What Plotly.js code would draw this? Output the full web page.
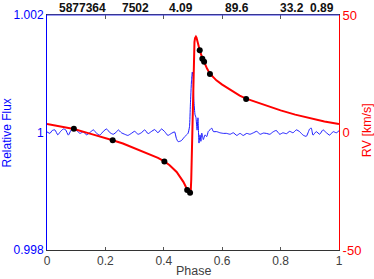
<!DOCTYPE html>
<html>
<head>
<meta charset="utf-8">
<script src="https://cdn.plot.ly/plotly-3.0.1.min.js"></script>
<style>html,body{margin:0;padding:0;background:#fff;}#plot{width:374px;height:279px;}</style>
</head>
<body>
<div id="plot"></div>
<script>
// Light curve (relative flux vs phase)
var fluxPhase = [0.000,0.010,0.018,0.027,0.037,0.045,0.056,0.064,0.073,0.082,0.090,0.102,0.113,0.124,0.136,0.147,0.159,0.170,0.181,0.193,0.204,0.216,0.227,0.239,0.244,0.255,0.266,0.277,0.289,0.300,0.312,0.323,0.335,0.346,0.357,0.369,0.380,0.392,0.403,0.414,0.426,0.437,0.443,0.449,0.460,0.4715,0.483,0.488,0.491,0.495,0.4976,0.500,0.503,0.507,0.510,0.514,0.517,0.5205,0.524,0.527,0.530,0.5354,0.541,0.547,0.5525,0.558,0.564,0.570,0.581,0.5925,0.604,0.615,0.627,0.638,0.650,0.661,0.672,0.684,0.695,0.707,0.718,0.730,0.741,0.751,0.763,0.774,0.785,0.797,0.808,0.820,0.831,0.8425,0.854,0.865,0.877,0.888,0.8995,0.905,0.911,0.922,0.934,0.945,0.957,0.968,0.980,0.991,1.000];
var fluxValue = [1.000010,0.999985,1.000035,1.000045,0.999960,1.000010,1.000060,1.000045,0.999955,1.000035,1.000065,1.000030,0.999985,1.000010,0.999960,1.000000,1.000045,0.999985,0.999955,1.000020,1.000060,0.999995,0.999970,1.000015,1.000045,0.999995,0.999970,0.999950,0.999985,1.000020,0.999970,0.999995,1.000045,0.999980,1.000015,1.000050,0.999995,1.000060,1.000015,0.999950,0.999985,1.000010,0.999900,0.999844,0.999861,0.999929,0.999986,1.000100,1.000470,1.000890,1.001030,1.000930,1.000550,1.000300,1.000260,1.000040,1.000250,0.999820,0.999960,0.999850,0.999990,0.999880,0.999960,0.999930,1.000020,1.000045,1.000075,1.000015,1.000015,0.999995,0.999985,0.999985,0.999970,0.999995,0.999950,0.999985,0.999950,0.999985,0.999970,0.999995,1.000020,0.999970,0.999990,0.999985,0.999970,1.000010,1.000035,0.999970,0.999995,0.999980,1.000020,0.999995,1.000045,1.000015,0.999955,0.999935,1.000060,1.000075,0.999955,1.000015,0.999970,1.000045,0.999995,0.999955,1.000015,0.999995,1.000030];

// RV model curve (km/s)
var rvModelPhase = [0.0,0.05,0.092,0.15,0.2,0.225,0.26,0.295,0.33,0.353,0.38,0.402,0.42,0.444,0.46,0.467,0.475,0.48,0.485,0.489,0.492,0.494,0.496,0.498,0.499,0.501,0.503,0.505,0.507,0.510,0.512,0.515,0.519,0.523,0.530,0.538,0.548,0.558,0.58,0.60,0.63,0.66,0.682,0.72,0.76,0.8,0.85,0.9,0.95,1.0];
var rvModel = [3.6,2.4,1.5,-0.6,-2.3,-3.3,-4.7,-6.5,-8.0,-9.3,-10.8,-12.3,-13.9,-16.8,-19.6,-21.0,-23.0,-24.3,-25.3,-25.8,-25.5,-20,-10,0,5,22,35,38.5,40.2,40.8,40.4,38.8,36.8,35.0,32.4,29.8,27.2,25.0,22.2,20.4,17.9,15.7,14.4,12.7,10.9,9.4,7.6,6.0,4.7,3.6];

// RV observations (km/s)
var rvObsPhase = [0.092,0.225,0.402,0.480,0.490,0.523,0.532,0.538,0.558,0.682];
var rvObs = [1.6,-3.3,-12.3,-24.5,-25.6,35.0,31.4,30.1,24.9,14.3];

// Tick labels
var xTickVals = [0,0.2,0.4,0.6,0.8,1];
var xTickText = ['0','0.2','0.4','0.6','0.8','1'];
var fluxTickVals = [0.998,1,1.002];
var fluxTickText = ['0.998','1','1.002'];
var rvTickVals = [-50,0,50];
var rvTickText = ['-50','0','50'];

// Top labels
var topLabels = ['5877364','7502','4.09','89.6','33.2','0.89'];
var topLabelX = [0.1199,0.3038,0.458,0.6497,0.840,0.9408];

var FONT = 'Liberation Sans, Arial, Helvetica, sans-serif';

var traces = [
  {x: fluxPhase, y: fluxValue, type: 'scatter', mode: 'lines', yaxis: 'y',
   line: {color: '#1a1aff', width: 1, shape: 'spline', smoothing: 0.5}, hoverinfo: 'skip'},
  {x: rvModelPhase, y: rvModel, type: 'scatter', mode: 'lines', yaxis: 'y2',
   line: {color: '#ff0000', width: 2}, hoverinfo: 'skip'},
  {x: rvObsPhase, y: rvObs, type: 'scatter', mode: 'markers', yaxis: 'y2',
   marker: {color: '#000000', size: 6}, hoverinfo: 'skip'}
];

var annotations = topLabels.map(function(t, i){
  return {text: t, x: topLabelX[i], y: 1 + 15/235, xref: 'paper', yref: 'paper',
    xanchor: 'center', yanchor: 'top', showarrow: false, borderpad: 0,
    font: {family: FONT, size: 12, color: '#111111', weight: 'bold'}};
});
annotations.push({text: 'Relative Flux', x: -0.137, y: 0.5, xref: 'paper', yref: 'paper',
  textangle: -90, showarrow: false, xanchor: 'center', yanchor: 'middle',
  font: {family: FONT, size: 12, color: '#0000ff'}});
annotations.push({text: 'RV [km/s]', x: 1.096, y: 0.51, xref: 'paper', yref: 'paper',
  textangle: -90, showarrow: false, xanchor: 'center', yanchor: 'middle',
  font: {family: FONT, size: 12.5, color: '#ff0000'}});
annotations.push({text: 'Phase', x: 0.5, y: -0.09, xref: 'paper', yref: 'paper',
  showarrow: false, xanchor: 'center', yanchor: 'middle',
  font: {family: FONT, size: 12.5, color: '#404040'}});

var layout = {
  width: 374, height: 279,
  margin: {l: 47, r: 35, t: 15, b: 29, pad: 0},
  paper_bgcolor: '#ffffff', plot_bgcolor: '#ffffff',
  showlegend: false,
  xaxis: {range: [0, 1], tickvals: xTickVals, ticktext: xTickText,
    showgrid: false, zeroline: false, showline: true, linecolor: '#333333', linewidth: 1,
    mirror: 'ticks', ticks: 'inside', ticklen: 3.5, tickcolor: '#555555',
    tickfont: {family: FONT, size: 12, color: '#404040'}},
  yaxis: {range: [0.998, 1.002], tickvals: fluxTickVals, ticktext: fluxTickText,
    showgrid: false, zeroline: false, showline: true, linecolor: '#0000ff', linewidth: 1,
    ticks: '', tickfont: {family: FONT, size: 12, color: '#0000ff'}},
  yaxis2: {range: [-50, 50], tickvals: rvTickVals, ticktext: rvTickText, overlaying: 'y', side: 'right',
    showgrid: false, zeroline: false, showline: true, linecolor: '#ff0000', linewidth: 1,
    ticks: '', tickfont: {family: FONT, size: 13, color: '#ff0000'}},
  shapes: [{type: 'line', xref: 'paper', yref: 'paper', x0: 0, x1: 1, y0: 1, y1: 1,
    line: {color: '#3a3af0', width: 1}}],
  annotations: annotations
};

Plotly.newPlot('plot', traces, layout, {staticPlot: true, displayModeBar: false});
</script>
</body>
</html>
